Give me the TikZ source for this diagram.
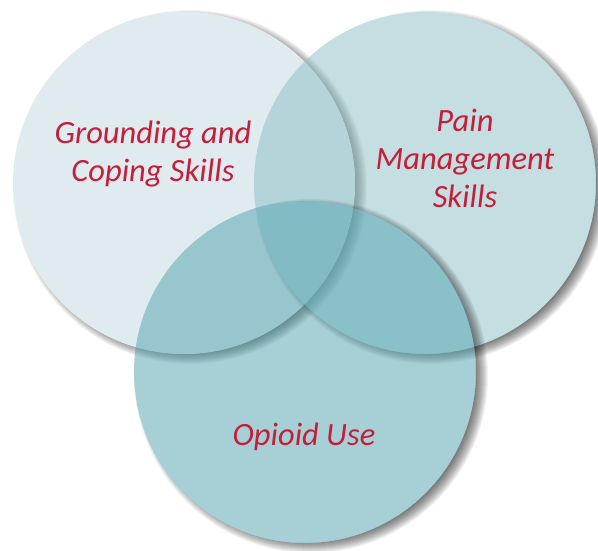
\documentclass[tikz,border=0pt]{standalone}
\usepackage{fontspec}
\setmainfont{Carlito}
\usetikzlibrary{calc}
\definecolor{txtred}{HTML}{C41E3A}
\definecolor{cLeft}{HTML}{DFEBEF}
\definecolor{cRight}{RGB}{144,193,200}
\definecolor{cBottom}{RGB}{81,163,175}
\newcommand\vennshadow[1]{%
  \begin{scope}[even odd rule]
    \clip (-20,-20) rectangle (620,570) (#1) circle[radius=171pt];
    \foreach \k in {0,...,13}
      \fill[black, opacity=0.05] ($(#1)+(6,4)$) circle[radius=164pt+\k pt];
  \end{scope}}
\begin{document}
\begin{tikzpicture}[x=1pt,y=-1pt,
  label text/.style={text=txtred, font=\itshape\fontsize{32.5}{38}\selectfont, align=center}]
\useasboundingbox (0,0) rectangle (598,550);
\fill[white] (0,0) rectangle (598,550);
\coordinate (cL) at (184,183);
\coordinate (cR) at (425,183);
\coordinate (cB) at (305,372);
% left circle
\vennshadow{cL}
\fill[cLeft] (cL) circle[radius=171pt];
% right circle
\vennshadow{cR}
\fill[cRight, fill opacity=0.53] (cR) circle[radius=171pt];
% bottom circle
\vennshadow{cB}
\fill[cBottom, fill opacity=0.5] (cB) circle[radius=171pt];
% labels
\node[label text] (ground) at (153,154) {Grounding and\\Coping Skills};
\node[label text] (pain) at (465,158) {Pain\\Management\\Skills};
\node[label text] (opioid) at (304,437) {Opioid Use};
\end{tikzpicture}
\end{document}
